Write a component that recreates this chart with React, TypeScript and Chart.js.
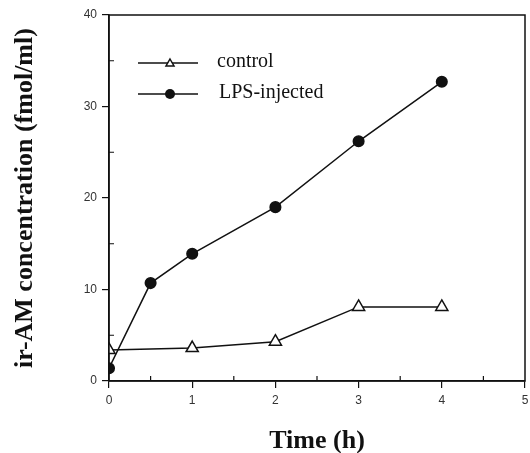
import React, { useEffect, useRef } from "react";
import { Chart, registerables } from "chart.js";

Chart.register(...registerables);

const timeControl = [0, 1, 2, 3, 4];
const controlValues = [3.4, 3.6, 4.3, 8.1, 8.1];
const timeLPS = [0, 0.5, 1, 2, 3, 4];
const lpsValues = [1.4, 10.7, 13.9, 19.0, 26.2, 32.7];
const seriesLabels = ["control", "LPS-injected"];
const xTitle = "Time (h)";
const yTitle = "ir-AM concentration (fmol/ml)";

const boxPlugin = {
  id: "boxAndMinor",
  afterDraw(chart: any) {
    const { ctx, chartArea, scales } = chart;
    const { left, right, top, bottom } = chartArea;
    ctx.save();
    ctx.strokeStyle = "#111";
    ctx.lineWidth = 1.5;
    ctx.strokeRect(left, top, right - left, bottom - top);
    // inward minor ticks
    ctx.lineWidth = 1.2;
    ctx.beginPath();
    for (let v = 0.5; v < 5; v += 1) {
      const x = scales.x.getPixelForValue(v);
      ctx.moveTo(x, bottom);
      ctx.lineTo(x, bottom - 5);
    }
    for (let v = 5; v < 40; v += 10) {
      const y = scales.y.getPixelForValue(v);
      ctx.moveTo(left, y);
      ctx.lineTo(left + 5, y);
    }
    ctx.stroke();

    // legend
    const rows = [
      { label: seriesLabels[0], style: "triangle", y: top + 48 },
      { label: seriesLabels[1], style: "circle", y: top + 79 },
    ];
    ctx.font = "20px 'Liberation Serif', serif";
    ctx.textBaseline = "middle";
    ctx.textAlign = "left";
    rows.forEach((r) => {
      ctx.strokeStyle = "#111";
      ctx.lineWidth = 1.5;
      ctx.beginPath();
      ctx.moveTo(left + 29, r.y);
      ctx.lineTo(left + 89, r.y);
      ctx.stroke();
      const cx = left + 61;
      if (r.style === "triangle") {
        ctx.fillStyle = "#fff";
        ctx.beginPath();
        ctx.moveTo(cx, r.y - 4);
        ctx.lineTo(cx + 4, r.y + 3);
        ctx.lineTo(cx - 4, r.y + 3);
        ctx.closePath();
        ctx.fill();
        ctx.stroke();
      } else {
        ctx.fillStyle = "#111";
        ctx.beginPath();
        ctx.arc(cx, r.y, 5, 0, Math.PI * 2);
        ctx.fill();
      }
      ctx.fillStyle = "#111";
      ctx.fillText(r.label, left + 108 + (r.style === "circle" ? 2 : 0), r.y - 1);
    });
    ctx.restore();
  },
};

export default function App() {
  const ref = useRef<HTMLCanvasElement>(null);
  useEffect(() => {
    if (!ref.current) return;
    const tickFont = { family: "'Liberation Sans', Arial, sans-serif", size: 12 };
    const titleFont = { family: "'Liberation Serif', 'Times New Roman', serif", size: 26, weight: "bold" as const };
    const chart = new Chart(ref.current, {
      type: "line",
      data: {
        datasets: [
          {
            label: seriesLabels[0],
            data: timeControl.map((t, i) => ({ x: t, y: controlValues[i] })),
            borderColor: "#111",
            borderWidth: 1.5,
            pointStyle: "triangle",
            pointRadius: 7,
            pointBorderWidth: 1.5,
            pointBackgroundColor: "#fff",
            pointBorderColor: "#111",
          },
          {
            label: seriesLabels[1],
            data: timeLPS.map((t, i) => ({ x: t, y: lpsValues[i] })),
            borderColor: "#111",
            borderWidth: 1.5,
            pointStyle: "circle",
            pointRadius: 5.3,
            pointBackgroundColor: "#111",
            pointBorderColor: "#111",
          },
        ],
      },
      options: {
        responsive: false,
        animation: false,
        layout: { autoPadding: false, padding: { left: 0, right: 5, top: 15, bottom: 0 } },
        plugins: { legend: { display: false }, tooltip: { enabled: false } },
        scales: {
          x: {
            type: "linear",
            min: 0,
            max: 5,
            afterFit: (s: any) => {
              s.height = 72;
              s.paddingLeft = 0;
              s.paddingRight = 0;
            },
            ticks: {
              stepSize: 0.5,
              color: "#333",
              font: tickFont,
              padding: 5,
              maxRotation: 0,
              autoSkip: false,
              callback: (v: any) => (Number(v) % 1 === 0 ? String(v) : ""),
            },
            grid: {
              drawOnChartArea: false,
              tickLength: 7,
              lineWidth: 1.2,
              color: (c: any) => (c.tick && c.tick.value % 1 === 0 ? "#111" : "rgba(0,0,0,0)"),
            },
            border: { color: "#111", width: 1.5 },
            title: {
              display: true,
              text: xTitle,
              color: "#111",
              font: titleFont,
              padding: { top: 14, bottom: -4 },
            },
          },
          y: {
            type: "linear",
            min: 0,
            max: 40,
            afterFit: (s: any) => {
              s.width = 109;
              s.paddingTop = 0;
              s.paddingBottom = 0;
            },
            ticks: {
              stepSize: 5,
              color: "#333",
              font: tickFont,
              padding: 5,
              autoSkip: false,
              callback: (v: any) => (Number(v) % 10 === 0 ? String(v) : ""),
            },
            grid: {
              drawOnChartArea: false,
              tickLength: 7,
              lineWidth: 1.2,
              color: (c: any) => (c.tick && c.tick.value % 10 === 0 ? "#111" : "rgba(0,0,0,0)"),
            },
            border: { color: "#111", width: 1.5 },
            title: {
              display: true,
              text: yTitle,
              color: "#111",
              font: titleFont,
              padding: { top: 10, bottom: 0 },
            },
          },
        },
      },
      plugins: [boxPlugin],
    });
    return () => chart.destroy();
  }, []);
  return (
    <div style={{ position: "fixed", left: 0, top: 0, width: 530, height: 453, background: "#fff" }}>
      <canvas ref={ref} width={530} height={453} />
    </div>
  );
}
